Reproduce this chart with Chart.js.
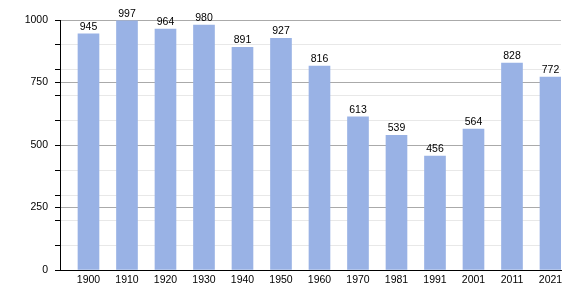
<!DOCTYPE html>
<html>
<head>
<meta charset="utf-8">
<script src="https://cdn.jsdelivr.net/npm/chart.js@4"></script>
<style>
  html, body { margin: 0; padding: 0; background: #fff; }
  #wrap { width: 580px; height: 300px; }
</style>
</head>
<body>
<div id="wrap"><canvas id="popChart"></canvas></div>
<script>
// census years and population
const years = ['1900', '1910', '1920', '1930', '1940', '1950', '1960', '1970', '1981', '1991', '2001', '2011', '2021'];
const population = [945, 997, 964, 980, 891, 927, 816, 613, 539, 456, 564, 828, 772];
const majorTicks = [0, 250, 500, 750, 1000];
const minorTicks = [100, 200, 300, 400, 600, 700, 800, 900];

const FONT = { family: '"Liberation Sans", Arial, sans-serif', size: 10.5 };

// value labels above each bar
const valueLabels = {
  id: 'valueLabels',
  afterDatasetsDraw(chart) {
    const ctx = chart.ctx;
    const meta = chart.getDatasetMeta(0);
    ctx.save();
    ctx.font = `${FONT.size}px ${FONT.family}`;
    ctx.fillStyle = '#000';
    ctx.textAlign = 'center';
    ctx.textBaseline = 'alphabetic';
    meta.data.forEach((bar, i) => {
      ctx.fillText(String(population[i]), bar.x, bar.y - 4);
    });
    ctx.restore();
  }
};

new Chart(document.getElementById('popChart'), {
  type: 'bar',
  data: {
    datasets: [{
      data: population.map((v, i) => ({ x: i, y: v })),
      backgroundColor: '#99b2e5',
      borderWidth: 0,
      barThickness: 21
    }]
  },
  options: {
    responsive: true,
    maintainAspectRatio: false,
    animation: false,
    layout: { padding: { left: 0, right: 19, top: 20, bottom: 0 } },
    plugins: {
      legend: { display: false },
      tooltip: { enabled: false }
    },
    scales: {
      x: {
        type: 'linear',
        offset: false,
        min: -0.74,
        max: 12.273,
        afterBuildTicks: scale => { scale.ticks = years.map((y, i) => ({ value: i })); },
        afterFit: scale => { scale.height = 30; },
        grid: { display: false, drawTicks: false, offset: false },
        border: { display: true, color: '#000', width: 1 },
        ticks: {
          font: FONT,
          color: '#000',
          padding: 4,
          maxRotation: 0,
          autoSkip: false,
          callback: (v) => years[v]
        }
      },
      y: {
        min: 0,
        max: 1000,
        afterBuildTicks: scale => {
          scale.ticks = majorTicks.concat(minorTicks).sort((a, b) => a - b).map(v => ({ value: v }));
        },
        afterFit: scale => { scale.width = 60; },
        grid: {
          color: ctx => (ctx.tick && majorTicks.includes(ctx.tick.value)) ? '#aaaaaa' : '#e8e8e8',
          tickColor: '#000',
          tickLength: 5
        },
        border: { display: true, color: '#000', width: 1 },
        ticks: {
          font: FONT,
          color: '#000',
          padding: 7,
          autoSkip: false,
          callback: v => majorTicks.includes(v) ? String(v) : ''
        }
      }
    }
  },
  plugins: [valueLabels]
});
</script>
</body>
</html>
